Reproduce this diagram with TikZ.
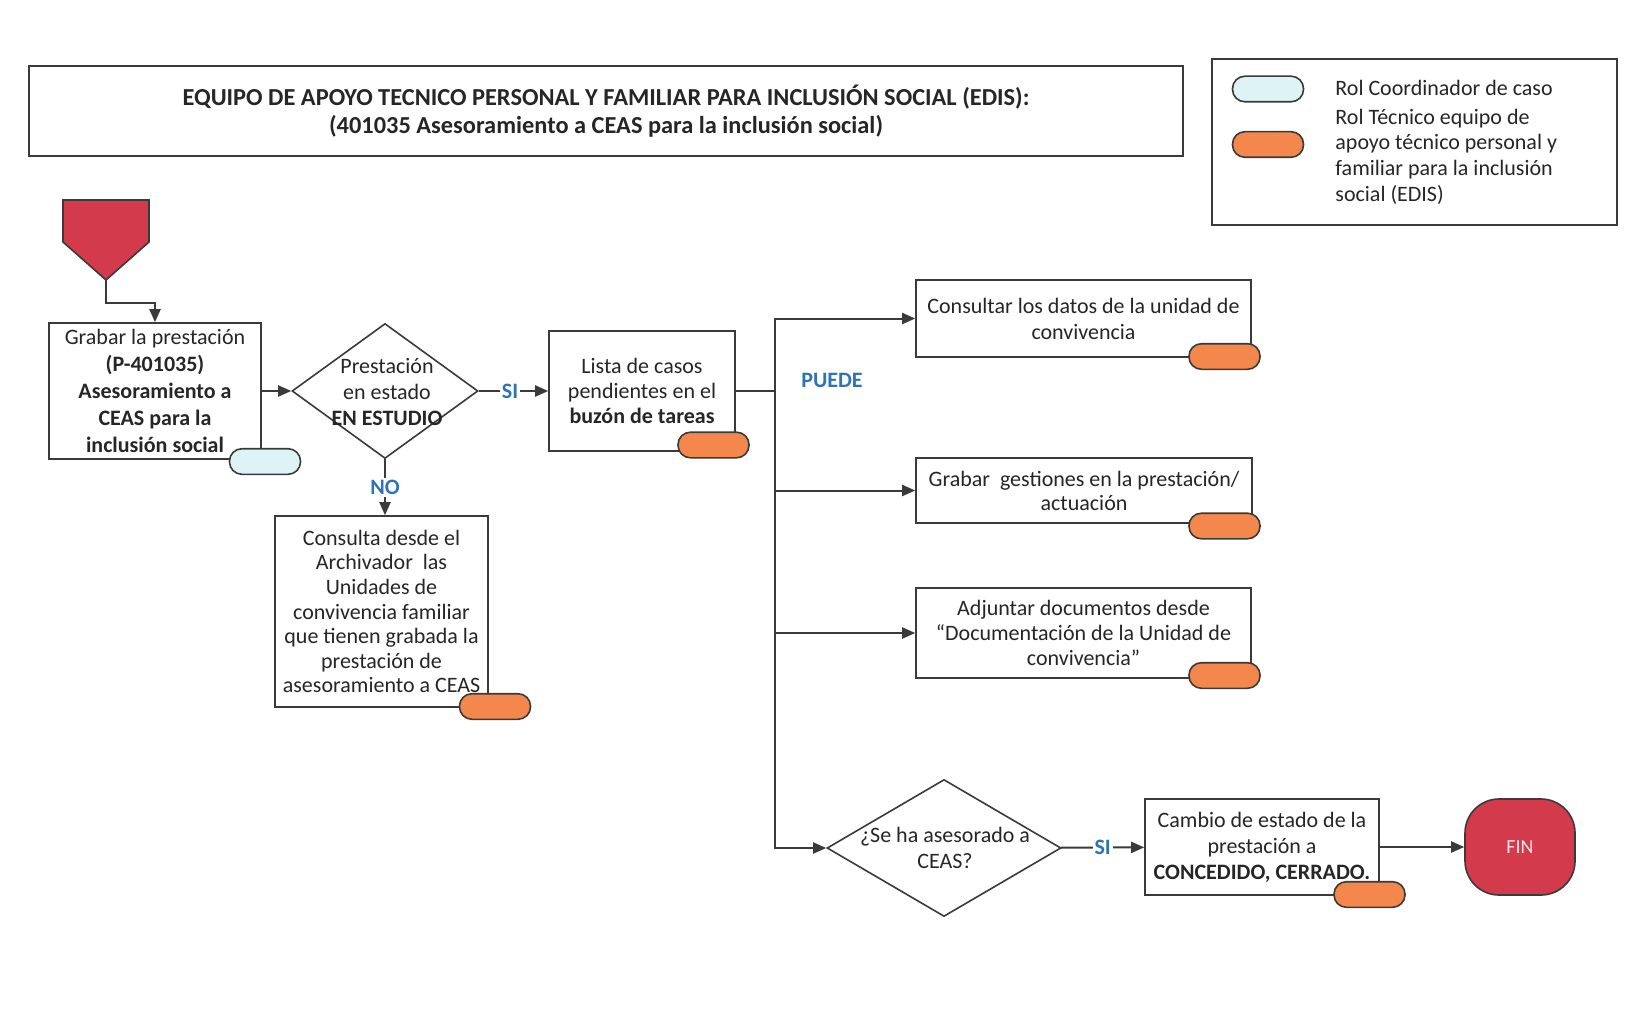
\documentclass[tikz,border=0pt]{standalone}
\usepackage{fontspec}
\setmainfont{Carlito}
\usepackage{xcolor}
\usepackage{tikz}
\usetikzlibrary{positioning, arrows.meta, shapes.geometric}

\definecolor{linegray}{HTML}{3A3A3A}
\definecolor{inkgray}{HTML}{262626}
\definecolor{startred}{HTML}{D33A4C}
\definecolor{rolcoord}{HTML}{DDF3F5}
\definecolor{roltec}{HTML}{F4874B}
\definecolor{tagblue}{HTML}{2E74B5}
\definecolor{fintext}{HTML}{EDE3E3}

\begin{document}
\begin{tikzpicture}[x=0.5pt, y=-0.5pt, font=\fontsize{11}{13}\selectfont,
  every node/.style={text=inkgray},
  box/.style={draw=linegray, line width=0.8pt, fill=white, align=center, inner sep=2pt},
  decision/.style={draw=linegray, line width=0.8pt, fill=white, diamond, inner sep=0pt},
  pill/.style={draw=linegray, line width=0.8pt, rounded corners=6.2pt, minimum width=35.5pt, minimum height=12.8pt, inner sep=0pt},
  arr/.style={draw=linegray, line width=1pt, -{Triangle[length=6.5pt,width=5.5pt]}},
  lnk/.style={draw=linegray, line width=1pt},
  tag/.style={font=\fontsize{11}{13}\selectfont\bfseries, text=tagblue, fill=white, inner sep=1pt}]
  \useasboundingbox (0,0) rectangle (1631,1016);

  % Title and legend
  \node[box, minimum width=577pt, minimum height=45pt, font=\fontsize{12.2}{14}\selectfont\bfseries] (titulo) at (606,111)
    {EQUIPO DE APOYO TECNICO PERSONAL Y FAMILIAR PARA INCLUSIÓN SOCIAL (EDIS):\\(401035 Asesoramiento a CEAS para la inclusión social)};
  \node[box, minimum width=202.5pt, minimum height=83pt] (leyenda) at (1414.5,142) {};
  \node[pill, fill=rolcoord] (leycoord) at (1268,89) {};
  \node[pill, fill=roltec] (leytec) at (1268,144.5) {};
  \node[anchor=west, inner sep=0pt] (txtcoord) at (1335,88) {Rol Coordinador de caso};
  \node[anchor=west, align=left, inner sep=0pt, font=\fontsize{11}{12.8}\selectfont] (txttec) at (1335,156.5)
    {Rol Técnico equipo de\\apoyo técnico personal y\\familiar para la inclusión\\social (EDIS)};

  % Start
  \draw[fill=startred, draw=linegray, line width=0.8pt] (63,200) -- (149,200) -- (149,242) -- (106,280) -- (63,242) -- cycle;
  \coordinate (inicio) at (106,280);

  % Steps
  \node[box, minimum width=106pt, minimum height=68pt, font=\fontsize{11}{13.5}\selectfont] (grabar) at (155,391)
    {Grabar la prestación\\\textbf{(P-401035)}\\\textbf{Asesoramiento a}\\\textbf{CEAS para la}\\\textbf{inclusión social}};
  \node[decision, minimum width=93pt, minimum height=67.5pt] (estudio) at (385,391) {};
  \node[align=center, inner sep=0pt, font=\fontsize{11}{12.8}\selectfont] (txtestudio) at (387,392)
    {Prestación\\en estado\\\textbf{EN ESTUDIO}};
  \node[box, minimum width=93pt, minimum height=60pt, font=\fontsize{11}{12.5}\selectfont] (lista) at (642,391)
    {Lista de casos\\pendientes en el\\\textbf{buzón de tareas}};
  \node[box, minimum width=106.5pt, minimum height=95.5pt, font=\fontsize{11}{12.3}\selectfont] (archivador) at (381.5,611.5)
    {Consulta desde el\\Archivador\ \ las\\Unidades de\\convivencia familiar\\que tienen grabada la\\prestación de\\asesoramiento a CEAS};
  \node[box, minimum width=167.5pt, minimum height=38.5pt] (consultar) at (1083.5,318.5)
    {Consultar los datos de la unidad de\\convivencia};
  \node[box, minimum width=168pt, minimum height=32.5pt, font=\fontsize{11}{12}\selectfont] (gestiones) at (1084,490.5)
    {Grabar\ \ gestiones en la prestación/\\actuación};
  \node[box, minimum width=167.5pt, minimum height=45pt, font=\fontsize{11}{12.5}\selectfont] (adjuntar) at (1083.5,633)
    {Adjuntar documentos desde\\“Documentación de la Unidad de\\convivencia”};
  \node[decision, minimum width=117pt, minimum height=68.5pt] (asesorado) at (944,848) {};
  \node[align=center, inner sep=0pt] (txtasesorado) at (945,848) {¿Se ha asesorado a\\CEAS?};
  \node[box, minimum width=117pt, minimum height=48pt] (cambio) at (1262,847)
    {Cambio de estado de la\\prestación a\\\textbf{CONCEDIDO, CERRADO.}};
  \node[draw=linegray, line width=0.8pt, fill=startred, rounded corners=17pt, minimum width=55pt, minimum height=48pt,
    text=fintext, font=\fontsize{10}{12}\selectfont] (fin) at (1520,847) {FIN};

  % Roles
  \foreach \nm/\px/\py/\col in {rgrabar/265/461.5/rolcoord, rlista/713.5/445/roltec, rarchivador/495/706.5/roltec,
      rconsultar/1224.5/356.5/roltec, rgestiones/1224.5/526/roltec, radjuntar/1224.5/675.5/roltec, rcambio/1369.5/894.5/roltec}
    \node[pill, fill=\col] (\nm) at (\px,\py) {};

  % Connectors
  \draw[arr] (inicio) -- ++(0,23) -| (grabar.north);
  \draw[arr] (grabar) -- (estudio);
  \draw[arr] (estudio) -- node[tag, pos=0.45] {SI} (lista);
  \draw[arr] (estudio.south) -- node[tag] {NO} (estudio.south |- archivador.north);
  \coordinate (cruce) at (775,391);
  \draw[lnk] (lista) -- (cruce);
  \foreach \dest in {consultar, gestiones, adjuntar, asesorado}
    \draw[arr] (cruce) |- (\dest);
  \node[tag, fill=none] (puede) at (832,380) {PUEDE};
  \draw[arr] (asesorado) -- node[tag] {SI} (cambio);
  \draw[arr] (cambio) -- (fin);
\end{tikzpicture}
\end{document}
